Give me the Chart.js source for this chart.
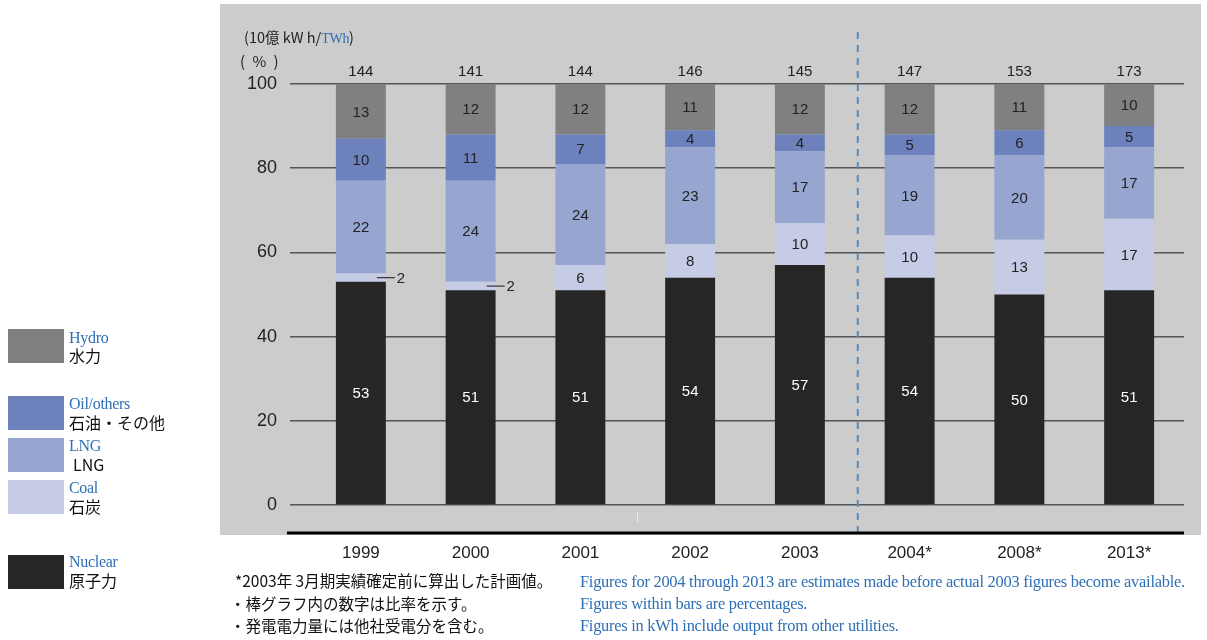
<!doctype html>
<html lang="ja">
  <head>
    <meta charset="utf-8">
    <title>Generation mix</title>
    <script src="https://cdn.jsdelivr.net/npm/chart.js@4.4.0/dist/chart.umd.min.js"></script>
    <style>
      body { margin: 0; background: #fff; width: 1207px; height: 640px; overflow: hidden; position: relative; }
      #wrap { position: absolute; left: 0; top: 0; }
      .t { position: absolute; white-space: nowrap; line-height: 1; }
      .en { font-family: "Liberation Serif", serif; color: #2f6fb5; font-size: 16px; letter-spacing: -0.3px; }
      .ja { font-family: "Noto Sans CJK JP", sans-serif; color: #111; font-size: 16px; }
      .note { font-size: 15.5px; }
      .fen { font-size: 16.4px; letter-spacing: -0.25px; }
      .sw { position: absolute; left: 8px; width: 56px; height: 34px; }
      .axt { font-family: "Noto Sans CJK JP", sans-serif; color: #222; font-size: 14.5px; }
    </style>
  </head>
  <body>
    <div id="wrap"><canvas id="myChart" width="1207" height="640"></canvas></div>

    <!-- axis titles -->
    <div class="t axt" style="left:244px; top:30px;">(10億 kW h/<span class="en" style="font-size:14px;">TWh</span>)</div>
    <div class="t axt" style="left:240px; top:53px; font-size:15px; word-spacing:4px;">( % )</div>

    <!-- legend -->
    <div class="sw" style="top:329px; background:#808080;"></div>
    <div class="t en" style="left:69px; top:330px;">Hydro</div>
    <div class="t ja" style="left:69px; top:347px;">水力</div>

    <div class="sw" style="top:396px; background:#6d82bc;"></div>
    <div class="t en" style="left:69px; top:396px;">Oil/others</div>
    <div class="t ja" style="left:69px; top:414px;">石油・その他</div>

    <div class="sw" style="top:438px; background:#97a6d0;"></div>
    <div class="t en" style="left:69px; top:438px;">LNG</div>
    <div class="t ja" style="left:73px; top:456px;">LNG</div>

    <div class="sw" style="top:480px; background:#c6cbe6;"></div>
    <div class="t en" style="left:69px; top:480px;">Coal</div>
    <div class="t ja" style="left:69px; top:498px;">石炭</div>

    <div class="sw" style="top:555px; background:#262626;"></div>
    <div class="t en" style="left:69px; top:554px;">Nuclear</div>
    <div class="t ja" style="left:69px; top:572px;">原子力</div>

    <!-- notes -->
    <div class="t ja note" style="left:235px; top:573px;">*2003年 3月期実績確定前に算出した計画値。</div>
    <div class="t ja note" style="left:230px; top:596px;">・棒グラフ内の数字は比率を示す。</div>
    <div class="t ja note" style="left:230px; top:618px;">・発電電力量には他社受電分を含む。</div>
    <div class="t en fen" style="left:580px; top:574px;">Figures for 2004 through 2013 are estimates made before actual 2003 figures become available.</div>
    <div class="t en fen" style="left:580px; top:596px;">Figures within bars are percentages.</div>
    <div class="t en fen" style="left:580px; top:618px;">Figures in kWh include output from other utilities.</div>

    <script>
      const years = ["1999", "2000", "2001", "2002", "2003", "2004*", "2008*", "2013*"];
      const totals = [144, 141, 144, 146, 145, 147, 153, 173];
      const nuclear = [53, 51, 51, 54, 57, 54, 50, 51];
      const coal = [2, 2, 6, 8, 10, 10, 13, 17];
      const lng = [22, 24, 24, 23, 17, 19, 20, 17];
      const oil = [10, 11, 7, 4, 4, 5, 6, 5];
      const hydro = [13, 12, 12, 11, 12, 12, 11, 10];
      const yTicks = [0, 20, 40, 60, 80, 100];

      const numFont = '15px "Liberation Sans", sans-serif';

      // grey panel, baseline, dashed divider, totals and bar labels
      const decor = {
        id: 'decor',
        beforeDraw(chart) {
          const c = chart.ctx;
          c.save();
          c.fillStyle = '#cccccc';
          c.fillRect(220, 4, 981, 531);
          c.restore();
        },
        afterDatasetsDraw(chart) {
          const c = chart.ctx;
          const xs = chart.scales.x, ys = chart.scales.y;
          c.save();

          // segment labels
          c.font = numFont;
          c.textAlign = 'center';
          c.textBaseline = 'middle';
          chart.data.datasets.forEach((ds, di) => {
            const meta = chart.getDatasetMeta(di);
            meta.data.forEach((bar, i) => {
              const v = ds.data[i];
              const mid = (bar.y + bar.base) / 2;
              if (v < 3) {
                c.strokeStyle = '#333';
                c.lineWidth = 1.2;
                c.beginPath();
                c.moveTo(bar.x + 16, mid);
                c.lineTo(bar.x + 34, mid);
                c.stroke();
                c.fillStyle = '#222';
                c.fillText(String(v), bar.x + 40, mid + 1);
              } else {
                c.fillStyle = ds.labelColor;
                c.fillText(String(v), bar.x, mid + 1);
              }
            });
          });

          // totals above bars
          c.fillStyle = '#222';
          totals.forEach((t, i) => {
            c.fillText(String(t), xs.getPixelForValue(i), ys.getPixelForValue(100) - 12);
          });

          // dashed divider between actual and plan
          const dx = (xs.getPixelForValue(4) + xs.getPixelForValue(5)) / 2 + 3;
          c.strokeStyle = '#5b8bb8';
          c.lineWidth = 2;
          c.setLineDash([7, 6]);
          c.beginPath();
          c.moveTo(dx, 32);
          c.lineTo(dx, 535);
          c.stroke();
          c.setLineDash([]);

          // thick baseline under the panel
          c.strokeStyle = '#000';
          c.lineWidth = 3;
          c.beginPath();
          c.moveTo(287, 533);
          c.lineTo(xs.right, 533);
          c.stroke();

          // small light mark
          c.strokeStyle = '#eeeeee';
          c.lineWidth = 1;
          c.beginPath();
          c.moveTo(637.5, 513);
          c.lineTo(637.5, 522);
          c.stroke();
          c.restore();
        }
      };

      const ctx = document.getElementById('myChart');

      const myChart = new Chart(ctx, {
        type: 'bar',
        data: {
          labels: years,
          datasets: [
            { label: 'Nuclear', data: nuclear, backgroundColor: '#262626', labelColor: '#ffffff' },
            { label: 'Coal', data: coal, backgroundColor: '#c6cbe6', labelColor: '#222222' },
            { label: 'LNG', data: lng, backgroundColor: '#97a6d0', labelColor: '#222222' },
            { label: 'Oil/others', data: oil, backgroundColor: '#6d82bc', labelColor: '#222222' },
            { label: 'Hydro', data: hydro, backgroundColor: '#808080', labelColor: '#222222' }
          ]
        },
        options: {
          responsive: false,
          animation: false,
          events: [],
          datasets: {
            bar: { categoryPercentage: 1, barPercentage: 0.455, borderWidth: 0 }
          },
          layout: { padding: { left: 226, right: 23, top: 84, bottom: 0 } },
          plugins: { legend: { display: false }, tooltip: { enabled: false } },
          scales: {
            x: {
              stacked: true,
              grid: { display: false },
              border: { display: false },
              afterFit: s => { s.height = 135; },
              ticks: {
                padding: 30,
                color: '#222',
                font: { family: '"Liberation Sans", sans-serif', size: 17 }
              }
            },
            y: {
              stacked: true,
              min: 0,
              max: 100,
              afterFit: s => { s.width = 80; },
              afterBuildTicks: s => { s.ticks = yTicks.map(v => ({ value: v })); },
              border: { display: false },
              grid: { color: '#555', lineWidth: 1.5, tickLength: 16, drawTicks: true },
              ticks: {
                padding: 13,
                color: '#222',
                font: { family: '"Liberation Sans", sans-serif', size: 18 }
              }
            }
          }
        },
        plugins: [decor]
      });
    </script>
  </body>
</html>
